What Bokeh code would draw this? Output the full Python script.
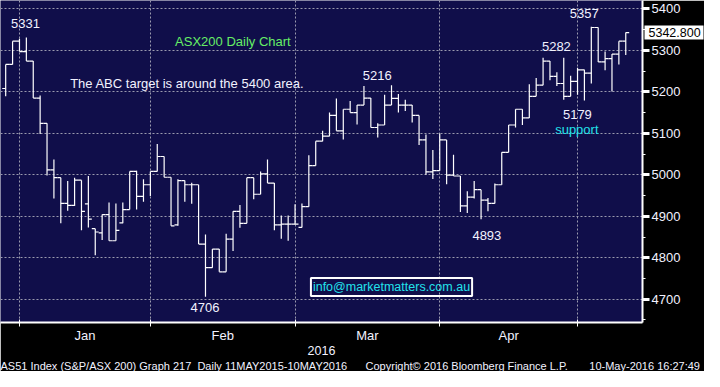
import numpy as np
from bokeh.plotting import figure
from bokeh.models import Range1d, FixedTicker, Label, Title, LinearAxis
from bokeh.core.properties import value
from bokeh.embed import file_html
from bokeh.resources import INLINE

# ---- data (S&P/ASX 200 daily OHLC, 29-Dec-2015 .. 10-May-2016) ----
opens = [5208, 5266, 5322, 5297, 5274, 5185, 5124, 5012, 4993, 4931,
         4926, 4987, 4930, 4870, 4860, 4904, 4841, 4884, 4916, 5008,
         4948, 4976, 5008, 5044, 4994, 4879, 4986, 4976, 4976, 4833,
         4776, 4821, 4766, 4845, 4912, 4883, 4993, 4953, 5002, 4980,
         4879, 4881, 4881, 4873, 4923, 5022, 5081, 5093, 5143, 5106,
         5158, 5150, 5168, 5185, 5114, 5120, 5168, 5184, 5168, 5168,
         5143, 5084, 5007, 5010, 5084, 4999, 4997, 4925, 4946, 4964,
         4939, 4931, 4976, 5054, 5120, 5158, 5137, 5189, 5216, 5274,
         5237, 5220, 5189, 5225, 5253, 5245, 5355, 5272, 5280, 5291,
         5322]
highs = [5266, 5322, 5328, 5331, 5274, 5191, 5124, 5037, 4993, 4985,
         4993, 4987, 4997, 4870, 4904, 4933, 4931, 4933, 5008, 5010,
         4989, 5008, 5074, 5044, 4994, 4989, 4986, 4981, 4976, 4856,
         4821, 4821, 4858, 4912, 4927, 4993, 4993, 5008, 5037, 4980,
         4902, 4902, 4929, 4931, 5047, 5081, 5106, 5150, 5184, 5158,
         5178, 5168, 5214, 5185, 5124, 5193, 5216, 5195, 5181, 5168,
         5143, 5097, 5060, 5099, 5084, 5048, 4997, 4960, 4985, 4964,
         4944, 4979, 5054, 5120, 5158, 5158, 5218, 5233, 5282, 5274,
         5247, 5282, 5239, 5258, 5253, 5357, 5355, 5297, 5291, 5322,
         5343]
lows = [5189, 5266, 5297, 5274, 5185, 5098, 4998, 4943, 4883, 4913,
        4925, 4866, 4873, 4806, 4843, 4841, 4841, 4883, 4916, 4916,
        4935, 4949, 5008, 4994, 4877, 4877, 4935, 4930, 4833, 4706,
        4776, 4766, 4766, 4816, 4872, 4883, 4941, 4953, 4980, 4866,
        4846, 4841, 4881, 4873, 4923, 5022, 5081, 5093, 5106, 5085,
        5150, 5121, 5168, 5114, 5090, 5120, 5168, 5150, 5154, 5126,
        5072, 5000, 4990, 5010, 4977, 4997, 4910, 4908, 4943, 4893,
        4912, 4931, 4976, 5054, 5114, 5120, 5137, 5189, 5216, 5228,
        5214, 5181, 5189, 5193, 5179, 5220, 5272, 5252, 5201, 5266,
        5289]
closes = [5266, 5322, 5297, 5274, 5185, 5124, 5012, 4993, 4931, 4926,
          4987, 4912, 4893, 4862, 4904, 4841, 4866, 4916, 5008, 4948,
          4976, 5008, 5044, 4994, 4877, 4986, 4976, 4976, 4833, 4776,
          4821, 4766, 4845, 4912, 4883, 4993, 4953, 5002, 4980, 4879,
          4881, 4881, 4881, 4923, 5022, 5081, 5093, 5143, 5106, 5158,
          5150, 5168, 5185, 5114, 5120, 5168, 5184, 5168, 5168, 5143,
          5084, 5007, 5010, 5084, 4999, 4997, 4925, 4946, 4964, 4939,
          4931, 4976, 5054, 5120, 5158, 5137, 5189, 5216, 5274, 5237,
          5220, 5189, 5225, 5253, 5245, 5355, 5272, 5280, 5291, 5322,
          5342.8]

month_bounds = [2, 21, 42, 63, 83]          # bar index of each month boundary
month_names = ["Jan", "Feb", "Mar", "Apr"]
year_label = "2016"
price_ticks = [4700, 4800, 4900, 5000, 5100, 5200, 5300, 5400]
last_price = 5342.8

peak_texts = ["5331", "5216", "4706", "4893", "5282", "5357", "5179"]
peak_x = [2.87, 53.94, 28.94, 69.84, 79.93, 83.98, 82.98]
peak_y = [5365, 5240, 4681, 4854, 5309, 5388, 5146]

NAVY = "#100e4a"
FONT = "Liberation Sans"
WHITE_TXT = "#f2f2ff"
GREEN = "#66ee66"
CYAN = "#22e2ea"

idx = np.arange(len(opens))

p = figure(width=704, height=371,
           x_range=Range1d(-0.753, 92.43), y_range=Range1d(4643.9, 5420.1),
           output_backend="svg", toolbar_location=None,
           y_axis_location="right",
           min_border_left=0, min_border_top=0,
           min_border_right=62, min_border_bottom=45,
           background_fill_color=NAVY, border_fill_color="black",
           outline_line_color=None)

# grid
p.xgrid.ticker = FixedTicker(ticks=month_bounds)
p.ygrid.ticker = FixedTicker(ticks=price_ticks)
for g in (p.xgrid[0], p.ygrid[0]):
    g.grid_line_color = "#9a9aae"
    g.grid_line_dash = "2 2"
    g.grid_line_width = 1

# x axis: month names between boundary ticks
mids = [(a + b) / 2 for a, b in zip(month_bounds[:-1], month_bounds[1:])]
xa = p.xaxis[0]
xa.ticker = FixedTicker(ticks=mids, minor_ticks=month_bounds)
xa.major_label_overrides = {m: n for m, n in zip(mids, month_names)}
xa.major_tick_out = 0
xa.major_tick_in = 0
xa.minor_tick_out = 4
xa.minor_tick_in = 3
xa.minor_tick_line_color = "white"
xa.axis_line_color = "white"
xa.axis_line_width = 2
xa.major_label_standoff = 1
xa.major_label_text_color = WHITE_TXT
xa.major_label_text_font = FONT
xa.major_label_text_font_size = "13px"
xa.axis_label = year_label
xa.axis_label_standoff = 0
xa.axis_label_text_color = WHITE_TXT
xa.axis_label_text_font = FONT
xa.axis_label_text_font_style = "normal"
xa.axis_label_text_font_size = "12.5px"

# y axis on the right
ya = p.yaxis[0]
ya.ticker = FixedTicker(ticks=price_ticks,
                        minor_ticks=[t - 50 for t in price_ticks] + [price_ticks[-1] + 50])
ya.major_tick_out = 7
ya.major_tick_in = 0
ya.major_tick_line_color = "white"
ya.major_tick_line_width = 3
ya.minor_tick_out = 3
ya.minor_tick_in = 0
ya.minor_tick_line_color = "white"
ya.axis_line_color = "white"
ya.axis_line_width = 2
ya.major_label_standoff = 2
ya.major_label_text_color = WHITE_TXT
ya.major_label_text_font = FONT
ya.major_label_text_font_size = "13px"

# last price marker: outer axis whose single (wide, white) tick and label are
# pulled back next to the frame
lp = LinearAxis(ticker=FixedTicker(ticks=[last_price]),
                major_label_overrides={last_price: f"{last_price:.3f}"},
                major_tick_in=39, major_tick_out=20,
                major_tick_line_color="white", major_tick_line_width=14,
                axis_line_color=None,
                major_label_standoff=-55,
                major_label_text_color="black",
                major_label_text_font=FONT, major_label_text_font_size="12.5px")
p.add_layout(lp, "right")

# OHLC bars
o = np.array(opens, dtype=float)
h = np.array(highs, dtype=float)
l = np.array(lows, dtype=float)
c = np.array(closes, dtype=float)
p.segment(x0=idx, y0=l, x1=idx, y1=h, line_color="white", line_width=1.2)
p.segment(x0=idx - 0.5, y0=o, x1=idx, y1=o, line_color="white", line_width=1.2)
p.segment(x0=idx, y0=c, x1=idx + 0.5, y1=c, line_color="white", line_width=1.2)

# annotations
p.text(x=peak_x, y=peak_y, text=peak_texts, text_color=WHITE_TXT,
       text_font=value(FONT), text_font_size="13px",
       text_align="center", text_baseline="middle")
p.text(x=[32.98], y=[5321], text=["ASX200 Daily Chart"], text_color=GREEN,
       text_font=value(FONT), text_font_size="13px",
       text_align="center", text_baseline="middle")
p.text(x=[26.35], y=[5219], text=["The ABC target is around the 5400 area."],
       text_color=WHITE_TXT, text_font=value(FONT), text_font_size="13px",
       text_align="center", text_baseline="middle")
p.text(x=[82.9], y=[5108], text=["support"], text_color=CYAN,
       text_font=value(FONT), text_font_size="13px",
       text_align="center", text_baseline="middle")

p.add_layout(Label(x=56.0, y=4729.3, text="info@marketmatters.com.au",
                   text_color=CYAN, text_font=FONT, text_font_size="12.5px",
                   text_align="center", text_baseline="middle",
                   border_line_color="white", border_line_width=2, padding=2))

# footer
NB = "\u00a0"
footer = ("AS51 Index (S&P/ASX 200) Graph 217" + NB * 2 + "Daily 11MAY2015-10MAY2016"
          + NB * 6 + "Copyright\u00a9 2016 Bloomberg Finance L.P." + NB * 7
          + "10-May-2016 16:27:49")
p.add_layout(Title(text=footer, align="left", text_font=FONT, text_font_size="11px",
                   text_font_style="normal", text_color=WHITE_TXT,
                   standoff=0, offset=0), "below")

open("out.html", "w").write(file_html(p, INLINE))
